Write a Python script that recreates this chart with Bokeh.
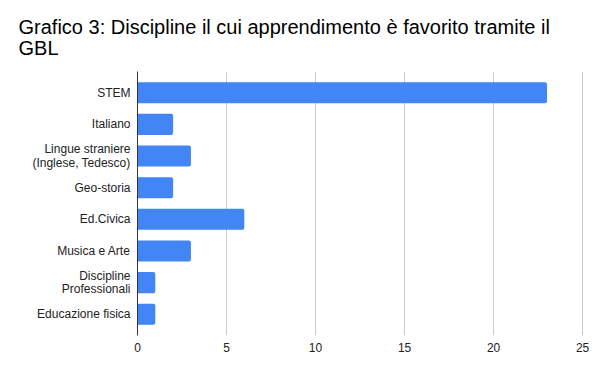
from bokeh.plotting import figure
from bokeh.models import FactorRange, Range1d, ColumnDataSource, FixedTicker, Title
from bokeh.embed import file_html
from bokeh.resources import INLINE

categories = [
    "STEM",
    "Italiano",
    "Lingue straniere\n(Inglese, Tedesco)",
    "Geo-storia",
    "Ed.Civica",
    "Musica e Arte",
    "Discipline\nProfessionali",
    "Educazione fisica",
]
values = [23, 2, 3, 2, 6, 3, 1, 1]
x_ticks = [0, 5, 10, 15, 20, 25]

title_line1 = "Grafico 3: Discipline il cui apprendimento è favorito tramite il"
title_line2 = "GBL"

source = ColumnDataSource(data=dict(cat=categories, val=values))

p = figure(
    width=593, height=356, title=None,
    y_range=FactorRange(factors=categories[::-1], range_padding=0.17,
                        range_padding_units="absolute"),
    x_range=Range1d(0, 25.05),
    output_backend="svg", toolbar_location=None,
    min_border_left=137, min_border_right=10, min_border_bottom=21, min_border_top=71,
)
p.outline_line_color = None

p.hbar(y="cat", right="val", left=0, height=0.665, source=source,
       fill_color="#4285f4", line_color=None, border_radius=(0, 2, 2, 0))

for txt, so in [(title_line2, 25), (title_line1, -31)]:
    t = Title(text=txt, text_font="Liberation Sans", text_font_size="20px",
              text_font_style="normal", text_color="#000000",
              align="left", offset=-119, standoff=so)
    p.add_layout(t, "above")

p.xaxis.ticker = FixedTicker(ticks=x_ticks)
p.xaxis.axis_line_color = None
p.xaxis.major_tick_line_color = None
p.xaxis.minor_tick_line_color = None
p.xaxis.major_tick_out = 0
p.xaxis.major_label_text_font = "Liberation Sans"
p.xaxis.major_label_text_font_size = "12px"
p.xaxis.major_label_text_color = "#222222"
p.xaxis.major_label_standoff = 7

p.yaxis.axis_line_color = "#333333"
p.yaxis.axis_line_width = 1
p.yaxis.major_tick_line_color = None
p.yaxis.minor_tick_line_color = None
p.yaxis.major_tick_out = 0
p.yaxis.major_label_text_font = "Liberation Sans"
p.yaxis.major_label_text_font_size = "12px"
p.yaxis.major_label_text_color = "#222222"
p.yaxis.major_label_text_line_height = 0.95
p.yaxis.major_label_standoff = 7
p.yaxis.major_label_text_align = "right"

p.xgrid.grid_line_color = "#cccccc"
p.ygrid.grid_line_color = None

open("out.html", "w").write(file_html(p, INLINE))
